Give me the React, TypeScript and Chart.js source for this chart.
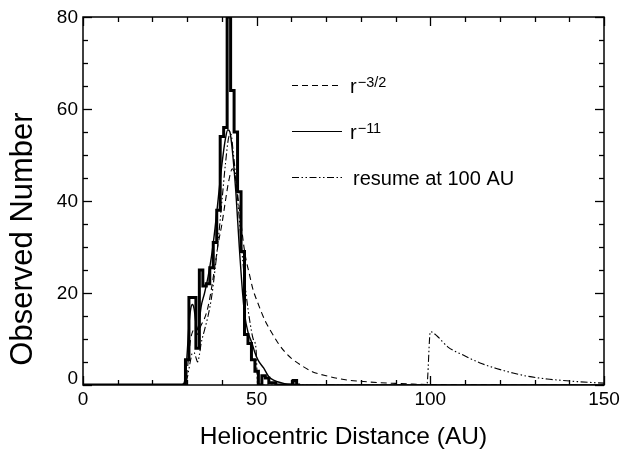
import React, { useEffect, useRef } from 'react';
import { Chart, registerables } from 'chart.js';

Chart.register(...registerables);

// Observed histogram: left bin edges (AU) and counts
const HIST_EDGES = [0, 29.5, 30.5, 31.5, 32.5, 33.5, 34.5, 35.5, 36.5, 37.5, 38.5, 39.5, 40.5, 41.5, 42.5, 43.5, 44.5, 45.5, 46.5, 47.5, 48.5, 49.5, 50.5, 51.5, 52.5, 53.5, 54.5, 55.5, 60.5, 61.5, 62.5];
const HIST_COUNTS = [0, 5.5, 19, 19, 8, 25, 21.5, 22, 25.5, 31, 38, 54, 56, 80, 64, 55, 42, 29, 11, 9, 5.5, 3, 0, 2, 1.5, 0.5, 0.5, 0, 1, 0, 0];

// r^-11 model
const R11_R = [0, 28, 29, 29.5, 30, 30.5, 31, 31.5, 32, 32.5, 33, 33.5, 34, 35, 36, 37, 38, 39, 40, 41, 41.7, 42.3, 43, 44, 45, 46, 46.6, 47.5, 48.7, 49.5, 50.4, 52, 53.5, 55, 56, 58, 60, 63, 150];
const R11_N = [0, 0, 0.3, 2, 7, 13, 16.5, 17.5, 16.5, 13.5, 12, 14, 17, 20, 23.5, 28, 34, 41, 48, 53.5, 55.5, 55, 51, 42, 30, 19.5, 15, 11.5, 9, 7, 5.4, 3.7, 1.8, 1.0, 0.7, 0.3, 0.1, 0, 0];

// r^-3/2 model
const R32_R = [0, 28, 29.5, 30, 30.5, 31, 31.5, 32, 32.5, 33, 33.5, 34, 35, 36, 37, 38, 39, 40, 41, 42, 43, 43.6, 44, 45.2, 46.6, 48, 49, 50, 52.4, 54, 56, 58, 60, 63, 66, 70, 76, 80, 85.5, 90, 95, 100, 110, 120, 150];
const R32_N = [0, 0, 0.5, 3, 7, 10, 11.5, 12, 11.5, 11, 12, 13, 14.5, 17, 21, 26, 31, 35, 40, 44.5, 47, 46, 44.6, 37, 28.7, 23.8, 20.6, 18.5, 14, 11.8, 9.3, 7.3, 5.8, 4.2, 2.9, 2.0, 1.1, 0.8, 0.5, 0.35, 0.2, 0.1, 0.05, 0.02, 0];

// truncated at 50 AU, resuming at 100 AU
const RES_R = [0, 28, 29.5, 30, 30.5, 31, 31.5, 32, 32.5, 33, 33.5, 34, 35, 36, 37, 38, 39, 40, 41, 42, 42.6, 43.2, 44, 45, 46, 47, 48, 49, 49.8, 50.3, 99, 100, 102, 105, 110, 114.3, 119, 123.8, 128, 133.6, 138, 143, 150];
const RES_N = [0, 0, 0.3, 1.5, 3.5, 5.5, 7, 7, 6, 5, 6.5, 9, 12, 15, 19, 25, 32, 40, 48, 54, 54.5, 51, 45, 36, 27, 19.5, 14, 10, 8, 0, 0, 11.6, 10.6, 8.3, 6.3, 4.8, 3.6, 2.6, 1.9, 1.3, 1.0, 0.7, 0.4];

const X_TICK_LABELS = [0, 50, 100, 150];
const Y_TICK_LABELS = [0, 20, 40, 60, 80];
const X_TITLE = 'Heliocentric Distance (AU)';
const Y_TITLE = 'Observed Number';
const LEGEND_BASE = ['r', 'r', 'resume at 100 AU'];
const LEGEND_SUP = ['\u22123/2', '\u221211', ''];

const FONT = "'Liberation Sans', Arial, Helvetica, sans-serif";
const DASHED = [6, 4];
const DASHDOT = [7, 2.5, 1.5, 2.5, 1.5, 2.5];

const pts = (xs: number[], ys: number[]) => xs.map((x, i) => ({ x, y: ys[i] }));

const framePlugin = {
  id: 'frameAndLabels',
  afterDraw(chart: any) {
    const { ctx, chartArea: a, scales } = chart;
    const xs = scales.x;
    const ys = scales.y;
    ctx.save();
    ctx.strokeStyle = '#000';
    ctx.fillStyle = '#000';
    ctx.setLineDash([]);
    ctx.lineWidth = 1.5;
    ctx.strokeRect(a.left, a.top, a.right - a.left, a.bottom - a.top);
    ctx.lineWidth = 1.3;
    const seg = (x1: number, y1: number, x2: number, y2: number) => {
      ctx.beginPath();
      ctx.moveTo(x1, y1);
      ctx.lineTo(x2, y2);
      ctx.stroke();
    };
    for (let v = 0; v <= 150; v += 10) {
      const px = Math.round(xs.getPixelForValue(v)) + 0.5;
      const len = v % 50 === 0 ? 9 : 5;
      seg(px, a.bottom, px, a.bottom - len);
      seg(px, a.top, px, a.top + len);
    }
    for (let v = 0; v <= 80; v += 5) {
      const py = Math.round(ys.getPixelForValue(v)) + 0.5;
      const len = v % 20 === 0 ? 9 : 5;
      seg(a.left, py, a.left + len, py);
      seg(a.right, py, a.right - len, py);
    }
    // tick labels
    ctx.font = `19px ${FONT}`;
    ctx.textAlign = 'center';
    ctx.textBaseline = 'top';
    X_TICK_LABELS.forEach((v) => {
      ctx.fillText(String(v), xs.getPixelForValue(v), a.bottom + 5);
    });
    ctx.textAlign = 'right';
    ctx.textBaseline = 'middle';
    Y_TICK_LABELS.forEach((v) => {
      const py = ys.getPixelForValue(v) + (v === 0 ? -6 : 1);
      ctx.fillText(String(v), a.left - 5, py);
    });
    // axis titles
    ctx.font = `24.5px ${FONT}`;
    ctx.textAlign = 'center';
    ctx.textBaseline = 'middle';
    ctx.fillText(X_TITLE, (a.left + a.right) / 2, 437);
    ctx.save();
    ctx.translate(23, 239);
    ctx.rotate(-Math.PI / 2);
    ctx.font = `31px ${FONT}`;
    ctx.fillText(Y_TITLE, 0, 0);
    ctx.restore();
    // legend
    const lx1 = 292;
    const lx2 = 342;
    const rows = [85, 131, 177];
    const dashes = [DASHED, [], DASHDOT];
    rows.forEach((ry, i) => {
      ctx.lineWidth = 1.2;
      ctx.setLineDash(dashes[i]);
      seg(lx1, ry + 0.5, lx2, ry + 0.5);
      ctx.setLineDash([]);
      ctx.textAlign = 'left';
      ctx.textBaseline = 'alphabetic';
      ctx.font = `20px ${FONT}`;
      const bx = i === 2 ? 353 : 350;
      ctx.fillText(LEGEND_BASE[i], bx, ry + 8);
      if (LEGEND_SUP[i]) {
        const w = ctx.measureText(LEGEND_BASE[i]).width;
        ctx.font = `14.5px ${FONT}`;
        ctx.fillText(LEGEND_SUP[i], bx + w + 1, ry + 2);
      }
    });
    ctx.restore();
  },
};

export default function App() {
  const ref = useRef<HTMLCanvasElement | null>(null);
  useEffect(() => {
    if (!ref.current) return;
    const chart = new Chart(ref.current, {
      type: 'line',
      data: {
        datasets: [
          {
            label: 'r^-3/2',
            data: pts(R32_R, R32_N),
            borderColor: '#000',
            borderWidth: 1.1,
            borderDash: DASHED,
            pointRadius: 0,
            cubicInterpolationMode: 'monotone',
            fill: false,
          },
          {
            label: 'resume at 100 AU',
            data: pts(RES_R, RES_N),
            borderColor: '#000',
            borderWidth: 1.1,
            borderDash: DASHDOT,
            pointRadius: 0,
            cubicInterpolationMode: 'monotone',
            fill: false,
          },
          {
            label: 'r^-11',
            data: pts(R11_R, R11_N),
            borderColor: '#000',
            borderWidth: 1.4,
            pointRadius: 0,
            cubicInterpolationMode: 'monotone',
            fill: false,
          },
          {
            label: 'observed',
            data: pts(HIST_EDGES, HIST_COUNTS),
            borderColor: '#000',
            borderWidth: 3,
            pointRadius: 0,
            stepped: 'before',
            borderJoinStyle: 'miter',
            fill: false,
          },
        ],
      },
      options: {
        animation: false,
        responsive: false,
        devicePixelRatio: 1,
        layout: { padding: { left: 83, right: 17, top: 17, bottom: 67 } },
        plugins: { legend: { display: false }, tooltip: { enabled: false } },
        scales: {
          x: { type: 'linear', min: 0, max: 150, display: false },
          y: { type: 'linear', min: 0, max: 80, display: false },
        },
      },
      plugins: [framePlugin],
    });
    return () => chart.destroy();
  }, []);
  return (
    <div style={{ position: 'fixed', left: 0, top: 0, width: 621, height: 452, background: '#fff' }}>
      <canvas ref={ref} width={621} height={452} style={{ width: 621, height: 452 }} />
    </div>
  );
}
